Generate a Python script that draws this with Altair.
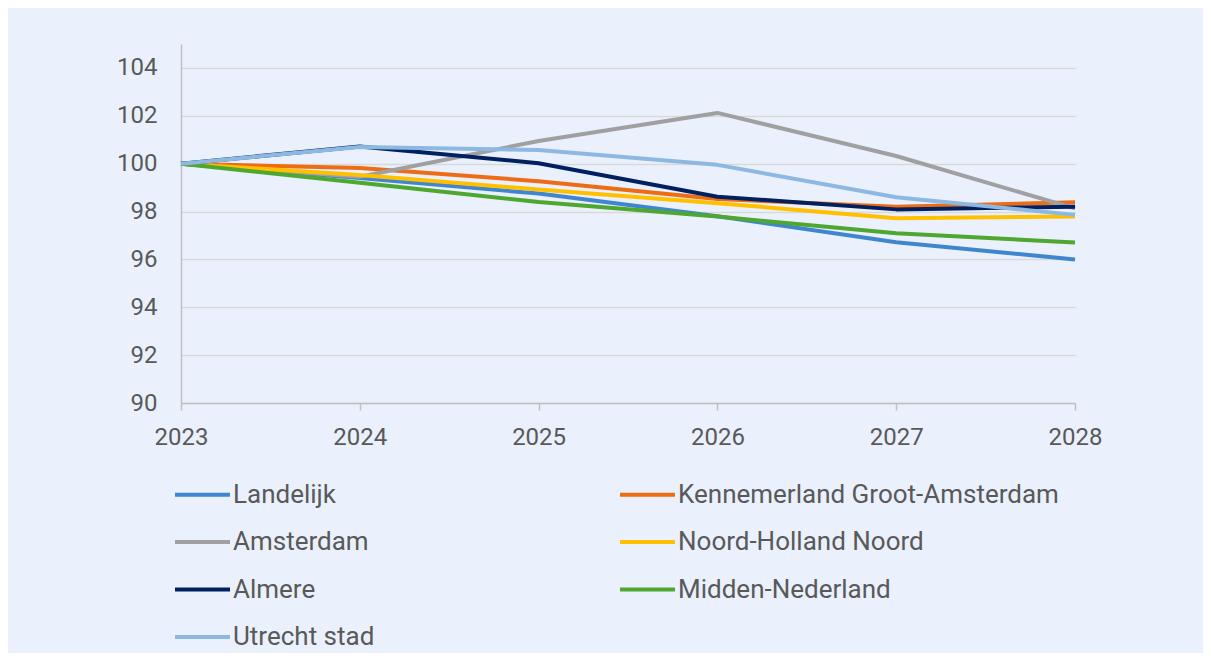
import altair as alt
import pandas as pd

years = [2023, 2024, 2025, 2026, 2027, 2028]
series_names = [
    "Landelijk",
    "Kennemerland Groot-Amsterdam",
    "Amsterdam",
    "Noord-Holland Noord",
    "Almere",
    "Midden-Nederland",
    "Utrecht stad",
]
landelijk = [100.0, 99.4, 98.75, 97.8, 96.72, 96.0]
kennemerland = [100.0, 99.82, 99.27, 98.52, 98.2, 98.39]
amsterdam = [100.0, 99.45, 100.95, 102.12, 100.32, 98.13]
noord_holland_noord = [100.0, 99.53, 98.92, 98.35, 97.72, 97.79]
almere = [100.0, 100.72, 100.02, 98.62, 98.09, 98.2]
midden_nederland = [100.0, 99.2, 98.4, 97.79, 97.09, 96.71]
utrecht_stad = [100.0, 100.7, 100.57, 99.95, 98.6, 97.86]
colors = ["#3F86CF", "#EE6C14", "#A0A0A0", "#FFC000", "#002060", "#4EA72E", "#8DB8E2"]
y_ticks = [90, 92, 94, 96, 98, 100, 102, 104]
# legend is filled column by column: left column first, then right column
legend_order = ["Landelijk", "Amsterdam", "Almere", "Utrecht stad",
                "Kennemerland Groot-Amsterdam", "Noord-Holland Noord", "Midden-Nederland"]

all_series = [landelijk, kennemerland, amsterdam, noord_holland_noord,
              almere, midden_nederland, utrecht_stad]
color_of = dict(zip(series_names, colors))
legend_colors = [color_of[n] for n in legend_order]

rows = []
for i, (name, vals) in enumerate(zip(series_names, all_series)):
    for yr, v in zip(years, vals):
        rows.append({"jaar": yr, "waarde": v, "reeks": name})
df = pd.DataFrame(rows)

FONT = "Roboto"
TXT = "#595959"

chart = alt.Chart(df).mark_line(strokeWidth=4, strokeJoin="round").encode(
    x=alt.X("jaar:Q",
            scale=alt.Scale(domain=[2023, 2028], nice=False, zero=False),
            axis=alt.Axis(values=years, format="d", title=None, grid=False,
                          domainColor="#BFBFBF", domainWidth=1.5,
                          tickColor="#BFBFBF", tickWidth=1.5, tickSize=7,
                          labelPadding=15, labelFontSize=24, labelFont=FONT,
                          labelColor=TXT, labelFlush=False)),
    y=alt.Y("waarde:Q",
            scale=alt.Scale(domain=[90, 105], nice=False, zero=False),
            axis=alt.Axis(values=y_ticks, title=None, grid=True,
                          gridColor="#D9D9D9", gridWidth=1.5,
                          domainColor="#BFBFBF", domainWidth=1.5,
                          ticks=False, labelPadding=24, labelFontSize=24,
                          labelFont=FONT, labelColor=TXT)),
    color=alt.Color("reeks:N",
                    scale=alt.Scale(domain=legend_order, range=legend_colors),
                    legend=alt.Legend(title=None, orient="none",
                                      legendX=-8, legendY=421,
                                      columns=2, gridAlign="each",
                                      symbolType="stroke",
                                      symbolSize=3025, symbolStrokeWidth=4,
                                      labelFontSize=26, labelFont=FONT,
                                      labelColor=TXT, labelOffset=1,
                                      rowPadding=4.5, columnPadding=237,
                                      labelLimit=500)),
).properties(
    width=894, height=359,
    padding={"left": 173, "top": 36, "right": 128, "bottom": 250},
    autosize=alt.AutoSizeParams(type="none"),
).configure(background="#EAF1FD").configure_view(stroke=None)

chart.save("out.html", embed_options={"renderer": "svg", "actions": False})
